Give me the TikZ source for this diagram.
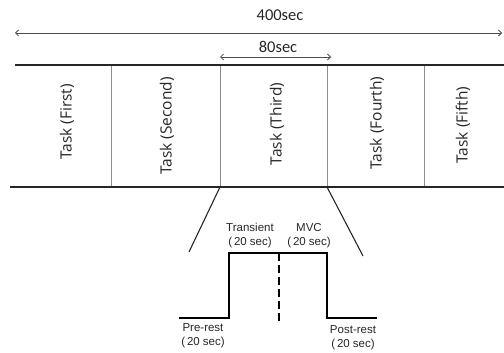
\documentclass[tikz,border=0pt]{standalone}
\usepackage{fontspec}
\setmainfont{Liberation Sans}
\newfontfamily\carlitofam{Carlito}
\newfontfamily\osans{Open Sans}
\usetikzlibrary{arrows.meta}
\begin{document}
\begin{tikzpicture}[x=1pt,y=-1pt,
  thickline/.style={line width=1.8pt,draw=black!85},
  sepline/.style={line width=0.7pt,draw=black!45},
  dimarrow/.style={line width=0.8pt,draw=black!70,{Straight Barb[length=3pt,width=6pt]}-{Straight Barb[length=3pt,width=6pt]}},
  wave/.style={line width=1.5pt,draw=black},
  toplabel/.style={font=\carlitofam\fontsize{16.5}{18}\selectfont,text=black!85,inner sep=0pt},
  tasklabel/.style={font=\osans\fontsize{15.5}{17}\selectfont,text=black!85,rotate=90,inner sep=0pt},
  phaselabel/.style={font=\fontsize{11.5}{14}\selectfont,text=black!85,inner sep=0pt,align=center}]
\useasboundingbox (0,0) rectangle (504,353);
% dimension arrows
\coordinate (a400l) at (15,33); \coordinate (a400r) at (502,33);
\draw[dimarrow] (a400l) -- (a400r);
\node[toplabel] (t400) at (280,15) {400sec};
\coordinate (a80l) at (220,57); \coordinate (a80r) at (331,57);
\draw[dimarrow] (a80l) -- (a80r);
\node[toplabel] (t80) at (278,47) {80sec};
% band lines
\coordinate (topl) at (15,65); \coordinate (topr) at (504,65);
\coordinate (botl) at (10,187); \coordinate (botr) at (504,187);
\draw[thickline] (topl) -- (topr);
\draw[thickline] (botl) -- (botr);
% separators
\foreach \x/\n in {111/s1,220/s2,327/s3,424/s4}{
  \coordinate (\n t) at (\x,66); \coordinate (\n b) at (\x,186);
  \draw[sepline] (\n t) -- (\n b);
}
% task labels
\node[tasklabel] (k1) at (67,122) {Task (First)};
\node[tasklabel] (k2) at (167,126) {Task (Second)};
\node[tasklabel] (k3) at (277,124) {Task (Third)};
\node[tasklabel] (k4) at (377,123) {Task (Fourth)};
\node[tasklabel] (k5) at (463,125) {Task (Fifth)};
% zoom lines
\coordinate (zl1) at (220,187); \coordinate (zl2) at (189,252);
\coordinate (zr1) at (327,187); \coordinate (zr2) at (363,256);
\draw[line width=1.1pt,draw=black!85] (zl1) -- (zl2);
\draw[line width=1.1pt,draw=black!85] (zr1) -- (zr2);
% waveform
\coordinate (w0) at (179,318); \coordinate (w1) at (229,318);
\coordinate (w2) at (229,253); \coordinate (w3) at (327,253);
\coordinate (w4) at (327,318); \coordinate (w5) at (377,318);
\draw[wave] (w0) -- (w1) -- (w2) -- (w3) -- (w4) -- (w5);
\coordinate (d1) at (279,253); \coordinate (d2) at (279,322);
\draw[wave,dash pattern=on 8pt off 4pt] (d1) -- (d2);
% phase labels
\node[phaselabel] (ptr) at (250,236) {Transient\\(\,20 sec)};
\node[phaselabel] (pmv) at (309,236) {MVC\\(\,20 sec)};
\node[phaselabel] (ppre) at (203,336) {Pre-rest\\(\,20 sec)};
\node[phaselabel] (ppost) at (353,338) {Post-rest\\(\,20 sec)};
\end{tikzpicture}
\end{document}
